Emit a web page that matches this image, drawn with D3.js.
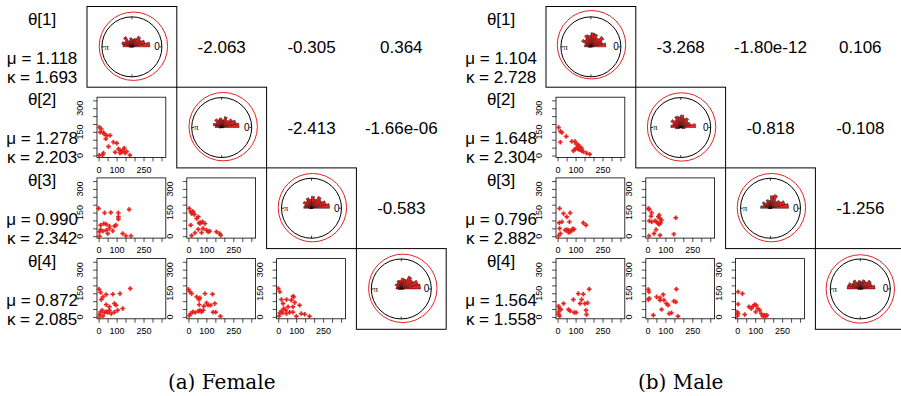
<!DOCTYPE html>
<html>
<head>
<meta charset="utf-8">
<script src="https://cdn.jsdelivr.net/npm/d3@7"></script>
<style>
    body { margin: 0; background: #fff; }
    svg { display: block; }
</style>
</head>
<body>
<svg id="board" width="901" height="396"></svg>
<script>
// Variable names shown in the first column
let varNames = ['θ[1]', 'θ[2]', 'θ[3]', 'θ[4]']

// Female summaries
let femaleMu = ['1.118', '1.278', '0.990', '0.872']
let femaleKappa = ['1.693', '2.203', '2.342', '2.085']
// upper triangle, order (1,2) (1,3) (1,4) (2,3) (2,4) (3,4)
let femaleCorr = ['-2.063', '-0.305', '0.364', '-2.413', '-1.66e-06', '-0.583']

// Male summaries
let maleMu = ['1.104', '1.648', '0.796', '1.564']
let maleKappa = ['2.728', '2.304', '2.882', '1.558']
let maleCorr = ['-3.268', '-1.80e-12', '0.106', '-0.818', '-0.108', '-1.256']

// Axis ticks of the scatter plots
let tickValues = [0, 50, 100, 150, 200, 250, 300, 350]
let xTickLabels = [0, 100, 250]
let yTickLabels = [0, 150, 300]

// Rose diagrams: 24 bins of 15 degrees, radius relative to the unit circle
let femaleRose1 = [0.6, 0.45, 0.36, 0.42, 0.3, 0.25, 0.3, 0.22, 0.4, 0.28, 0.35, 0.3, 0.08, 0, 0, 0, 0, 0, 0, 0, 0, 0, 0, 0.06]
let femaleRose2 = [0.58, 0.5, 0.42, 0.3, 0.38, 0.26, 0.32, 0.28, 0.34, 0.24, 0.3, 0.22, 0.08, 0, 0, 0, 0, 0, 0, 0, 0, 0, 0, 0.06]
let femaleRose3 = [0.6, 0.5, 0.4, 0.46, 0.32, 0.4, 0.3, 0.36, 0.28, 0.33, 0.24, 0.26, 0.08, 0, 0, 0, 0, 0, 0, 0, 0, 0, 0, 0.05]
let femaleRose4 = [0.64, 0.58, 0.45, 0.5, 0.34, 0.36, 0.28, 0.3, 0.22, 0.25, 0.16, 0.18, 0.1, 0, 0, 0, 0, 0, 0, 0, 0, 0, 0, 0.08]
let maleRose1 = [0.5, 0.4, 0.5, 0.36, 0.45, 0.47, 0.38, 0.42, 0.3, 0.36, 0.2, 0.22, 0.08, 0, 0, 0, 0, 0, 0, 0, 0, 0, 0, 0.05]
let maleRose2 = [0.5, 0.34, 0.3, 0.38, 0.33, 0.42, 0.36, 0.4, 0.3, 0.38, 0.28, 0.33, 0.18, 0.1, 0, 0, 0, 0, 0, 0, 0, 0, 0.08, 0.15]
let maleRose3 = [0.6, 0.5, 0.38, 0.3, 0.47, 0.42, 0.26, 0.3, 0.22, 0.32, 0.26, 0.33, 0.08, 0, 0, 0, 0, 0, 0, 0, 0, 0, 0, 0.05]
let maleRose4 = [0.49, 0.4, 0.42, 0.3, 0.32, 0.25, 0.28, 0.24, 0.35, 0.32, 0.42, 0.44, 0.08, 0, 0, 0, 0, 0, 0, 0, 0, 0, 0, 0.08]

// Red density ring: radius and centre shift (unit circle units)
let ringRadius = 1.14
let femaleRingShift = [[0.05, 0.02], [0.05, 0.03], [0.03, 0.02], [0.05, 0.02]]
let maleRingShift = [[0.02, 0.07], [0.03, 0.02], [0.03, 0.02], [0.0, 0.0]]

// Scatter plots [x, y]: x = column variable, y = row variable
let femaleScatter21 = [[4,180],[15,169],[9,148],[27,146],[31,136],[40,106],[46,127],[64,127],[55,57],[82,85],[101,78],[92,21],[110,42],[119,32],[128,21],[137,36],[143,47],[147,15],[156,25],[174,2],[4,2],[27,15],[22,4],[119,15]]
let femaleScatter31 = [[0,176],[33,148],[68,150],[110,148],[110,123],[110,108],[170,170],[11,70],[29,80],[42,76],[60,64],[88,64],[11,42],[5,28],[24,32],[42,38],[60,49],[97,70],[134,17],[152,2],[180,2],[5,0],[51,17],[79,34]]
let femaleScatter32 = [[5,176],[13,155],[18,144],[24,157],[27,150],[33,138],[46,112],[55,123],[60,85],[70,87],[79,91],[13,70],[37,21],[18,4],[55,44],[73,23],[82,49],[101,38],[110,28],[119,32],[156,28],[174,17],[180,6],[64,80],[92,80]]
let femaleScatter41 = [[2,176],[11,155],[15,110],[24,127],[42,142],[79,144],[119,148],[176,180],[97,74],[88,85],[134,53],[5,15],[11,32],[20,42],[33,28],[42,32],[51,28],[60,42],[70,21],[88,30],[106,42],[24,6],[5,0],[42,78],[60,64]]
let femaleScatter42 = [[0,174],[9,159],[18,148],[46,127],[59,110],[64,121],[92,148],[134,144],[101,89],[110,74],[123,74],[147,85],[178,4],[86,68],[64,42],[55,36],[24,32],[13,21],[5,8],[37,28],[73,32],[137,30],[152,30],[60,78],[82,42]]
let femaleScatter43 = [[0,180],[9,159],[18,110],[27,85],[46,110],[73,106],[82,131],[92,91],[82,64],[55,64],[42,42],[18,36],[9,25],[24,25],[46,21],[64,30],[82,30],[119,74],[128,21],[147,17],[174,4],[101,4],[5,6],[31,53],[86,127]]

let maleScatter21 = [[5,178],[15,153],[24,146],[15,85],[48,121],[79,89],[97,89],[103,74],[115,68],[121,57],[88,30],[97,40],[106,47],[115,40],[125,36],[134,30],[143,25],[161,15],[179,8],[134,47]]
let maleScatter31 = [[11,176],[33,144],[51,123],[70,148],[66,91],[9,85],[24,91],[11,49],[15,17],[5,2],[42,38],[51,42],[60,38],[70,28],[79,38],[84,47],[60,25],[143,85],[158,70],[92,44]]
let maleScatter32 = [[5,176],[11,169],[20,127],[11,97],[24,91],[24,148],[42,97],[51,91],[60,123],[66,134],[70,112],[79,102],[60,80],[66,76],[73,85],[48,42],[37,17],[9,2],[70,6],[147,13],[158,117]]
let maleScatter41 = [[5,68],[11,53],[5,32],[5,17],[11,6],[18,47],[33,85],[60,47],[70,38],[88,110],[92,28],[103,28],[115,148],[125,85],[134,110],[143,144],[152,85],[158,42],[161,15],[176,176],[167,89]]
let maleScatter42 = [[5,174],[9,159],[5,110],[11,117],[33,11],[51,127],[70,121],[70,106],[88,142],[79,47],[106,85],[115,74],[121,21],[134,25],[147,100],[158,95],[161,176],[170,4],[92,106]]
let maleScatter43 = [[5,159],[29,148],[5,81],[0,32],[5,21],[0,6],[42,15],[66,64],[79,53],[88,68],[97,78],[106,74],[115,53],[103,32],[125,42],[134,21],[143,4],[152,11],[158,4],[165,11]]

let board = d3.select('#board')

// Layout of one matrix of cells
let cellW = 89.8
let cellH = 80.7
let topMargin = 6.5
let red = '#e3231f'
let sans = '"Liberation Sans", Arial, Helvetica, sans-serif'

let panels = [
    {
        x0: -2.8, caption: '(a) Female', mu: femaleMu, kappa: femaleKappa, corr: femaleCorr,
        rose: [femaleRose1, femaleRose2, femaleRose3, femaleRose4], ring: femaleRingShift,
        scatter: [femaleScatter21, femaleScatter31, femaleScatter32, femaleScatter41, femaleScatter42, femaleScatter43]
    },
    {
        x0: 456.2, caption: '(b) Male', mu: maleMu, kappa: maleKappa, corr: maleCorr,
        rose: [maleRose1, maleRose2, maleRose3, maleRose4], ring: maleRingShift,
        scatter: [maleScatter21, maleScatter31, maleScatter32, maleScatter41, maleScatter42, maleScatter43]
    }
]

// scales of the scatter plots (inside one cell)
let xScale = d3.scaleLinear().domain([-9, 374]).range([10, cellW - 11])
let yScale = d3.scaleLinear().domain([-12, 370]).range([cellH - 10.5, 10])

// scale of the circular plots
let rScale = d3.scaleLinear().domain([0, 1]).range([0, 30])

let drawCircular = (g, rose, shift) => {
    let c = g.append('g').attr('transform', 'translate(' + cellW / 2 + ',' + cellH / 2 + ')')

    // density ring
    c.append('circle')
        .attr('cx', rScale(shift[0]))
        .attr('cy', -rScale(shift[1]))
        .attr('r', rScale(ringRadius))
        .attr('fill', 'none')
        .attr('stroke', red)
        .attr('stroke-width', 1)

    // unit circle
    c.append('circle')
        .attr('r', rScale(1))
        .attr('fill', 'none')
        .attr('stroke', '#000')
        .attr('stroke-width', 1)

    // small ticks on the circle
    c.selectAll('line.tick')
        .data([0, 0.5, 1, 1.5])
        .enter()
        .append('line')
        .attr('x1', (a) => rScale(1) * Math.cos(a * Math.PI))
        .attr('y1', (a) => -rScale(1) * Math.sin(a * Math.PI))
        .attr('x2', (a) => rScale(0.92) * Math.cos(a * Math.PI))
        .attr('y2', (a) => -rScale(0.92) * Math.sin(a * Math.PI))
        .attr('stroke', '#000')
        .attr('stroke-width', 0.8)

    c.append('text')
        .attr('x', rScale(0.84))
        .attr('y', 0)
        .attr('dy', '0.35em')
        .attr('text-anchor', 'middle')
        .attr('font-family', sans)
        .attr('font-size', 10)
        .text('0')
    c.append('text')
        .attr('x', -rScale(0.85))
        .attr('y', 0)
        .attr('dy', '0.3em')
        .attr('text-anchor', 'middle')
        .attr('font-family', '"Liberation Serif", serif')
        .attr('font-size', 9)
        .text('π')

    // rose diagram
    let binWidth = 2 * Math.PI / rose.length
    let arc = d3.arc()
        .innerRadius(0)
        .outerRadius((d) => rScale(d.value))
        .startAngle((d) => Math.PI / 2 - (d.index + 1) * binWidth)
        .endAngle((d) => Math.PI / 2 - d.index * binWidth)

    c.selectAll('path.wedge')
        .data(rose.map((v, i) => ({ value: v, index: i })).filter((d) => d.value > 0))
        .enter()
        .append('path')
        .attr('class', 'wedge')
        .attr('d', arc)
        .attr('fill', red)
        .attr('stroke', '#000')
        .attr('stroke-width', 0.45)
}

let drawScatter = (g, points) => {
    g.append('rect')
        .attr('x', xScale.range()[0])
        .attr('y', yScale.range()[1])
        .attr('width', xScale.range()[1] - xScale.range()[0])
        .attr('height', yScale.range()[0] - yScale.range()[1])
        .attr('fill', 'none')
        .attr('stroke', '#000')
        .attr('stroke-width', 0.8)

    let xAxis = g.append('g')
        .attr('transform', 'translate(0,' + yScale.range()[0] + ')')
        .call(d3.axisBottom(xScale).tickValues(tickValues).tickSize(4).tickPadding(5)
            .tickFormat((d) => xTickLabels.includes(d) ? d : ''))
    xAxis.select('.domain').remove()
    xAxis.selectAll('line').attr('stroke-width', 0.7)
    xAxis.selectAll('text').attr('font-family', sans).attr('font-size', 9)

    let yAxis = g.append('g')
        .attr('transform', 'translate(' + xScale.range()[0] + ',0)')
        .call(d3.axisLeft(yScale).tickValues(tickValues).tickSize(4).tickFormat(''))
    yAxis.select('.domain').remove()
    yAxis.selectAll('line').attr('stroke-width', 0.7)

    // rotated y labels
    g.selectAll('text.ylab')
        .data(yTickLabels)
        .enter()
        .append('text')
        .attr('class', 'ylab')
        .attr('transform', (d) => 'translate(' + (xScale.range()[0] - 14) + ',' + yScale(d) + ') rotate(-90)')
        .attr('text-anchor', 'middle')
        .attr('font-family', sans)
        .attr('font-size', 9)
        .text((d) => d)

    g.selectAll('path.pt')
        .data(points)
        .enter()
        .append('path')
        .attr('class', 'pt')
        .attr('transform', (d) => 'translate(' + xScale(d[0]) + ',' + yScale(d[1]) + ')')
        .attr('d', d3.symbol().type(d3.symbolCross).size(10))
        .attr('fill', red)
        .attr('stroke', red)
        .attr('stroke-width', 0.3)
}

let drawPanel = (p) => {
    let panel = board.append('g').attr('transform', 'translate(' + p.x0 + ',' + topMargin + ')')

    // first column: names and summaries
    varNames.forEach((name, i) => {
        let y = i * cellH
        let lines = [[name, 12], ['μ = ' + p.mu[i], 51], ['κ = ' + p.kappa[i], 70]]
        lines.forEach((l) => {
            panel.append('text')
                .attr('x', cellW / 2)
                .attr('y', y + l[1])
                .attr('dy', '0.36em')
                .attr('text-anchor', 'middle')
                .attr('font-family', sans)
                .attr('font-size', 17)
                .text(l[0])
        })
    })

    let k = 0
    let s = 0
    for (let row = 0; row < 4; row++) {
        for (let col = 0; col < 4; col++) {
            let cell = panel.append('g')
                .attr('transform', 'translate(' + (col + 1) * cellW + ',' + row * cellH + ')')
            if (row === col) {
                cell.append('rect')
                    .attr('width', cellW)
                    .attr('height', cellH)
                    .attr('fill', 'none')
                    .attr('stroke', '#000')
                    .attr('stroke-width', 1)
                drawCircular(cell, p.rose[row], p.ring[row])
            } else if (col > row) {
                cell.append('text')
                    .attr('x', cellW / 2)
                    .attr('y', cellH / 2)
                    .attr('dy', '0.36em')
                    .attr('text-anchor', 'middle')
                    .attr('font-family', sans)
                    .attr('font-size', 17)
                    .text(p.corr[k])
                k++
            }
        }
    }
    // lower triangle in order (2,1) (3,1) (3,2) (4,1) (4,2) (4,3)
    for (let row = 1; row < 4; row++) {
        for (let col = 0; col < row; col++) {
            let cell = panel.append('g')
                .attr('transform', 'translate(' + (col + 1) * cellW + ',' + row * cellH + ')')
            drawScatter(cell, p.scatter[s])
            s++
        }
    }

    board.append('text')
        .attr('x', p.x0 + 2.5 * cellW)
        .attr('y', 389)
        .attr('text-anchor', 'middle')
        .attr('font-family', '"DejaVu Serif", serif')
        .attr('font-size', 20)
        .text(p.caption)
}

panels.forEach((p) => drawPanel(p))
</script>
</body>
</html>
